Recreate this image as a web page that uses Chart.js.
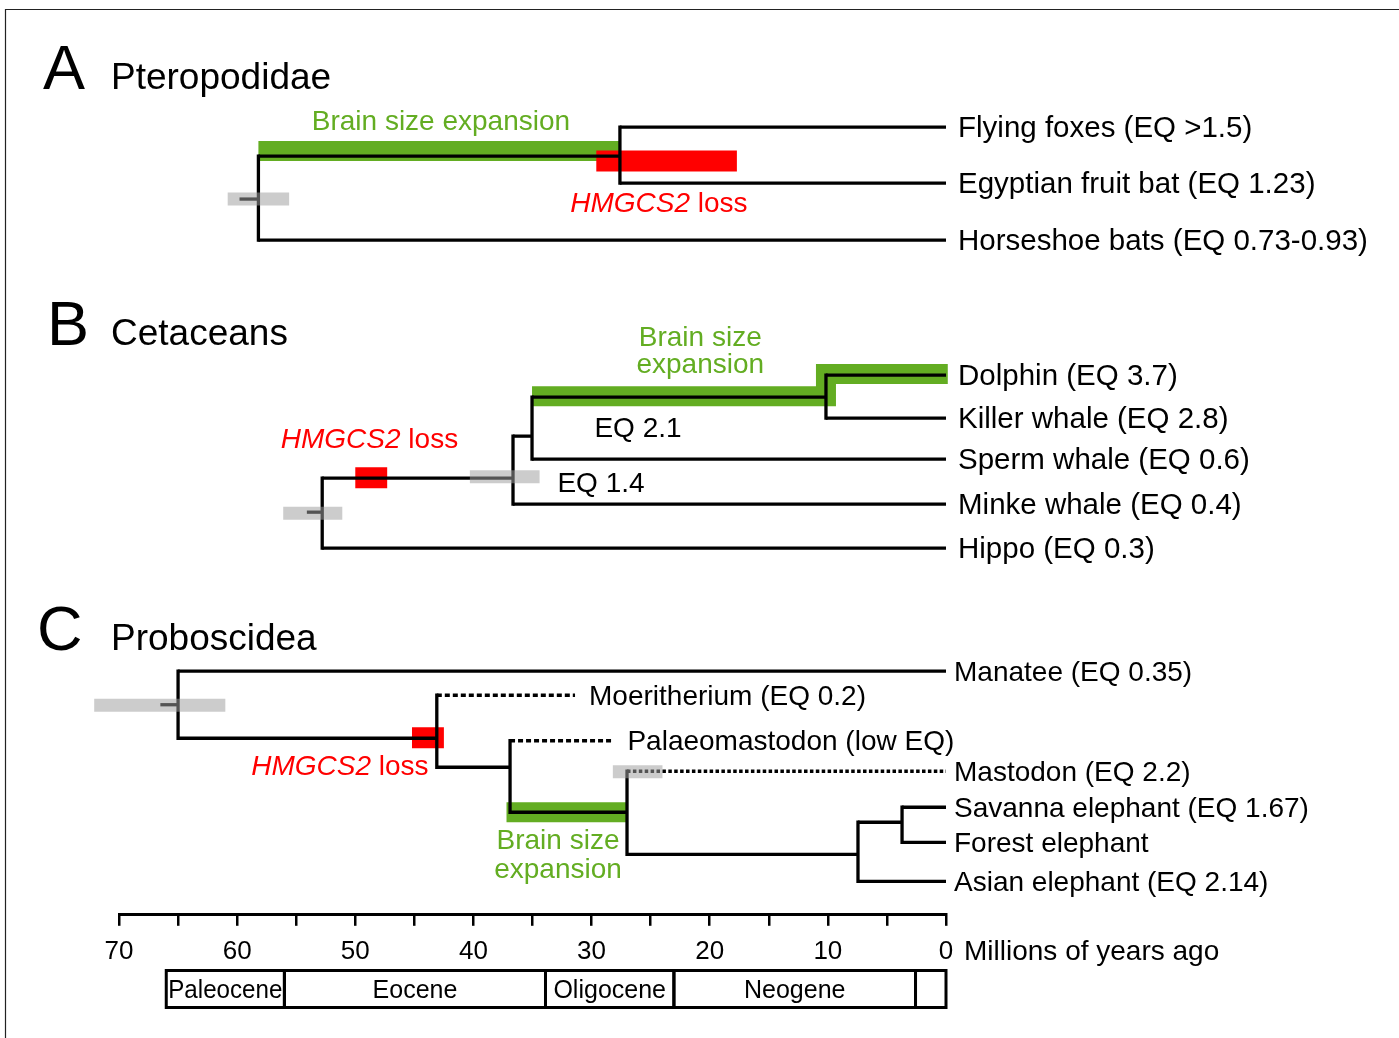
<!DOCTYPE html>
<html>
<head>
<meta charset="utf-8">
<script src="https://cdn.jsdelivr.net/npm/chart.js@4.4.1/dist/chart.umd.min.js"></script>
<style>
  html, body { margin: 0; padding: 0; background: #fff; }
  #wrap { width: 1399px; height: 1038px; position: relative; }
</style>
</head>
<body>
<div id="wrap"><canvas id="tree"></canvas></div>
<script>
// Ages are in millions of years ago, lanes are the vertical slot of each branch in the figure.
// Node lists: tips first, then internal nodes, the last one is the stem under the root.

// A  Pteropodidae
const batTips   = ['Flying foxes (EQ >1.5)', 'Egyptian fruit bat (EQ 1.23)', 'Horseshoe bats (EQ 0.73-0.93)'];
const batAge    = [0, 0, 0, 27.6, 58.2, 59.8];
const batLane   = [127, 183, 240, 156, 199, 199];
const batParent = [3, 3, 4, 4, 5, -1];
const batKind   = ['solid', 'solid', 'solid', 'solid', 'solid', 'solid'];
const batCI     = [[60.8, 55.6, 199]];
const batLoss   = [[29.6, 17.7, 161]];
const batBrain  = [[58.2, 151], [27.6, 151]];

// B  Cetaceans
const whaleTips   = ['Dolphin (EQ 3.7)', 'Killer whale (EQ 2.8)', 'Sperm whale (EQ 0.6)', 'Minke whale (EQ 0.4)', 'Hippo (EQ 0.3)'];
const whaleAge    = [0, 0, 0, 0, 0, 10.16, 35.04, 36.65, 52.8, 54.1];
const whaleLane   = [375, 418, 459, 504, 548, 397, 436, 478, 512, 512];
const whaleParent = [5, 5, 6, 7, 8, 6, 7, 8, 9, -1];
const whaleKind   = ['solid', 'solid', 'solid', 'solid', 'solid', 'solid', 'solid', 'solid', 'solid', 'solid'];
const whaleCI     = [[56.1, 51.1, 513], [40.3, 34.4, 476.5]];
const whaleLoss   = [[50.0, 47.3, 477.5]];
const whaleBrain  = [[35.04, 396], [10.16, 396], [10.16, 374], [-0.15, 374]];

// C  Proboscidea
const probTips   = ['Manatee (EQ 0.35)', 'Moeritherium (EQ 0.2)', 'Palaeomastodon (low EQ)', 'Mastodon (EQ 2.2)',
                    'Savanna elephant (EQ 1.67)', 'Forest elephant', 'Asian elephant (EQ 2.14)'];
const probAge    = [0, 31.4, 28.15, 0, 0, 0, 0, 3.72, 7.45, 27.0, 36.9, 43.1, 65.0, 66.5];
const probLane   = [671, 695, 740.5, 771, 807, 842, 881, 822, 854, 812, 767, 738, 704.5, 704.5];
const probParent = [12, 11, 10, 9, 7, 7, 8, 8, 9, 10, 11, 12, 13, -1];
const probKind   = ['solid', 'dash', 'dash', 'dot', 'solid', 'solid', 'solid', 'solid', 'solid', 'solid', 'solid', 'solid', 'solid', 'solid'];
const probCI     = [[72.1, 61.0, 705], [28.2, 24.0, 771.5]];
const probLoss   = [[45.2, 42.5, 737.5]];
const probBrain  = [[37.2, 812], [27.0, 812]];

// annotations
const noteText = ['Brain size expansion', '*HMGCS2* loss', '*HMGCS2* loss', 'Brain size', 'expansion', 'EQ 2.1', 'EQ 1.4',
                  '*HMGCS2* loss', 'Brain size', 'expansion'];
const noteAge  = [42.75, 24.3, 48.8, 20.8, 20.8, 26.07, 29.2, 51.3, 32.84, 32.84];
const noteLane = [130, 212, 448, 346, 373, 437, 492, 775, 849, 878];
const noteKind = ['brain', 'loss', 'loss', 'brain', 'brain', 'eq', 'eq', 'loss', 'brain', 'brain'];

// geological time scale
const epochName  = ['Paleocene', 'Eocene', 'Oligocene', 'Neogene', ''];
const epochStart = [66, 56, 33.9, 23.03, 2.58];
const epochEnd   = [56, 33.9, 23.03, 2.58, 0];

const panelLetter = ['A', 'B', 'C'];
const panelTitle  = ['Pteropodidae', 'Cetaceans', 'Proboscidea'];

// ---- styles / layout ----
const FAM = '"Liberation Sans", Arial, sans-serif';
const GREEN = '#63ad22';
const RED = '#ff0000';
const LW = 3.3;
const noteColor = { brain: GREEN, loss: RED, eq: '#000' };
const dashFor = { solid: [], dash: [5, 3], dot: [3.5, 2.4] };

const panels = [
  { tips: batTips, age: batAge, lane: batLane, parent: batParent, kind: batKind, ci: batCI, loss: batLoss, brain: batBrain,
    gap: 12, size: 29.5, letterX: 43, titleY: 89 },
  { tips: whaleTips, age: whaleAge, lane: whaleLane, parent: whaleParent, kind: whaleKind, ci: whaleCI, loss: whaleLoss, brain: whaleBrain,
    gap: 12, size: 29.5, letterX: 47, titleY: 345 },
  { tips: probTips, age: probAge, lane: probLane, parent: probParent, kind: probKind, ci: probCI, loss: probLoss, brain: probBrain,
    gap: 8, size: 28, letterX: 37, titleY: 650 }
];

const datasets = [];

function seg(points, opts) {
    datasets.push(Object.assign({
        data: points.map(p => ({ x: p[0], y: p[1] })),
        pointRadius: 0,
        pointHoverRadius: 0,
        fill: false,
        tension: 0,
        clip: false
    }, opts));
}

panels.forEach(p => {
    // horizontal branches
    p.age.forEach((a, i) => {
        const up = p.parent[i];
        if (up < 0) return;
        const k = p.kind[i];
        seg([[p.age[up], p.lane[i]], [a, p.lane[i]]], {
            borderColor: '#000',
            borderWidth: LW,
            borderDash: dashFor[k],
            borderCapStyle: 'butt',
            order: 1
        });
    });
    // vertical connectors
    p.age.forEach((a, i) => {
        const kids = p.lane.filter((l, j) => p.parent[j] === i);
        if (kids.length < 2) return;
        seg([[a, Math.min(...kids)], [a, Math.max(...kids)]], {
            borderColor: '#000', borderWidth: LW, borderCapStyle: 'square', order: 1
        });
    });
    // divergence time intervals
    p.ci.forEach(c => seg([[c[0], c[2]], [c[1], c[2]]], {
        borderColor: 'rgba(159,159,159,0.53)', borderWidth: 13, borderCapStyle: 'butt', order: 0
    }));
    // HMGCS2 loss
    p.loss.forEach(c => seg([[c[0], c[2]], [c[1], c[2]]], {
        borderColor: RED, borderWidth: 21, borderCapStyle: 'butt', order: 2
    }));
    // brain size expansion
    seg(p.brain, {
        borderColor: GREEN, borderWidth: 20, borderCapStyle: 'butt', borderJoinStyle: 'miter', order: 3
    });
});

function drawNote(ctx, text, cx, y, size, color) {
    const parts = text.split('*').filter(s => s.length).map(s => ({ s, it: text.indexOf('*' + s + '*') >= 0 }));
    let total = 0;
    parts.forEach(pt => {
        ctx.font = (pt.it ? 'italic ' : '') + size + 'px ' + FAM;
        pt.w = ctx.measureText(pt.s).width;
        total += pt.w;
    });
    let x = cx - total / 2;
    ctx.fillStyle = color;
    ctx.textAlign = 'left';
    parts.forEach(pt => {
        ctx.font = (pt.it ? 'italic ' : '') + size + 'px ' + FAM;
        ctx.fillText(pt.s, x, y);
        x += pt.w;
    });
}

const treeText = {
    id: 'treeText',
    afterDraw(chart) {
        const { ctx } = chart;
        const xs = chart.scales.x, ys = chart.scales.y;
        ctx.save();
        ctx.textBaseline = 'alphabetic';

        // frame
        ctx.strokeStyle = '#222';
        ctx.lineWidth = 1.2;
        ctx.beginPath();
        ctx.moveTo(5.5, 1040);
        ctx.lineTo(5.5, 9.5);
        ctx.lineTo(1400, 9.5);
        ctx.stroke();

        // panel headings
        panels.forEach((p, i) => {
            ctx.fillStyle = '#000';
            ctx.textAlign = 'left';
            ctx.font = '63px ' + FAM;
            ctx.fillText(panelLetter[i], p.letterX, p.titleY);
            ctx.font = '37px ' + FAM;
            ctx.fillText(panelTitle[i], 111, p.titleY);

            // tip labels
            ctx.font = p.size + 'px ' + FAM;
            p.tips.forEach((name, t) => {
                const gap = p.kind[t] === 'dash' ? 14 : p.gap;
                ctx.fillText(name, xs.getPixelForValue(p.age[t]) + gap, ys.getPixelForValue(p.lane[t]) + 9.5);
            });
        });

        // annotations
        noteText.forEach((t, i) => {
            drawNote(ctx, t, xs.getPixelForValue(noteAge[i]), ys.getPixelForValue(noteLane[i]), 28, noteColor[noteKind[i]]);
        });

        // axis unit
        ctx.fillStyle = '#000';
        ctx.textAlign = 'left';
        ctx.font = '28px ' + FAM;
        ctx.fillText('Millions of years ago', xs.getPixelForValue(0) + 18, 960);

        // epochs
        const top = 970.5, bot = 1007.5;
        ctx.strokeStyle = '#000';
        ctx.lineWidth = 3;
        ctx.font = '25px ' + FAM;
        ctx.textAlign = 'center';
        epochName.forEach((n, i) => {
            const x0 = xs.getPixelForValue(epochStart[i]);
            const x1 = xs.getPixelForValue(epochEnd[i]);
            ctx.strokeRect(x0, top, x1 - x0, bot - top);
            if (n) ctx.fillText(n, (x0 + x1) / 2, 998, x1 - x0 - 4);
        });
        ctx.restore();
    }
};

Chart.defaults.font.family = FAM;
Chart.defaults.color = '#000';

new Chart(document.getElementById('tree'), {
    type: 'line',
    data: { datasets },
    options: {
        responsive: true,
        maintainAspectRatio: false,
        animation: false,
        events: [],
        layout: { padding: { left: 119, right: 453, top: 0, bottom: 61 } },
        plugins: {
            legend: { display: false },
            tooltip: { enabled: false }
        },
        scales: {
            x: {
                type: 'linear',
                min: 0,
                max: 70,
                reverse: true,
                grid: { drawOnChartArea: false, tickLength: 11, lineWidth: 2.5, color: '#000' },
                border: { display: true, width: 3, color: '#000' },
                ticks: {
                    stepSize: 5,
                    autoSkip: false,
                    maxRotation: 0,
                    padding: 10,
                    color: '#000',
                    font: { size: 26 },
                    callback: v => (v % 10 === 0 ? String(v) : '')
                }
            },
            y: {
                type: 'linear',
                display: false,
                min: 0,
                max: 914.5,
                reverse: true
            }
        }
    },
    plugins: [treeText]
});
</script>
</body>
</html>
